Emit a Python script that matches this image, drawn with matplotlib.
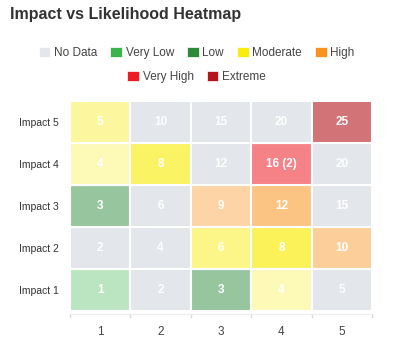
import matplotlib
matplotlib.use("Agg")
import matplotlib.pyplot as plt
from matplotlib.patches import Patch
from matplotlib.colors import to_rgb
import numpy as np

plt.rcParams.update({"font.family": ["Liberation Sans", "DejaVu Sans"]})

likelihood = [1, 2, 3, 4, 5]
impact_labels = ["Impact 1", "Impact 2", "Impact 3", "Impact 4", "Impact 5"]
# rows = impact 1..5, columns = likelihood 1..5
cell_text = [
    ["1", "2", "3", "4", "5"],
    ["2", "4", "6", "8", "10"],
    ["3", "6", "9", "12", "15"],
    ["4", "8", "12", "16 (2)", "20"],
    ["5", "10", "15", "20", "25"],
]
cell_cat = [
    ["Very Low", "No Data", "Low", "Moderate", "No Data"],
    ["No Data", "No Data", "Moderate", "Moderate", "High"],
    ["Low", "No Data", "High", "High", "No Data"],
    ["Moderate", "Moderate", "No Data", "Very High", "No Data"],
    ["Moderate", "No Data", "No Data", "No Data", "Extreme"],
]
cell_alpha = [
    [0.35, 1.0, 0.5, 0.3, 1.0],
    [1.0, 1.0, 0.5, 0.7, 0.45],
    [0.5, 1.0, 0.4, 0.55, 1.0],
    [0.3, 0.65, 1.0, 0.55, 1.0],
    [0.4, 1.0, 1.0, 1.0, 0.6],
]
categories = ["No Data", "Very Low", "Low", "Moderate", "High", "Very High", "Extreme"]
cat_colors = ["#e3e6ea", "#3cb44b", "#2e8b3a", "#f8ec10", "#f7931e", "#ed1c24", "#b3151d"]
cmap = dict(zip(categories, cat_colors))


def blend(c, a):
    r = np.array(to_rgb(c))
    return tuple(a * r + (1 - a) * np.ones(3))


fig = plt.figure(figsize=(3.93, 3.5), dpi=100)
ax = fig.add_axes([70 / 393, 1 - 311 / 350, 302 / 393, 210 / 350])

for i in range(5):
    for j in range(5):
        col = blend(cmap[cell_cat[i][j]], cell_alpha[i][j])
        ax.bar(likelihood[j], 1, width=1, bottom=i + 0.5, color=col,
               edgecolor="white", linewidth=1.5)
        ax.text(likelihood[j], i + 1, cell_text[i][j], ha="center", va="center",
                color="white", fontsize=8.5, fontweight="bold")

ax.set_xlim(0.5, 5.5)
ax.set_ylim(0.5, 5.5)
ax.set_yticks(range(1, 6))
ax.set_yticklabels(impact_labels, fontsize=7.5, color="#333333")
ax.set_xticks(likelihood)
ax.set_xticklabels([str(v) for v in likelihood], fontsize=8.5, color="#444444")
ax.tick_params(axis="y", length=0, pad=8)
ax.tick_params(axis="x", length=0, pad=11)
for s in ax.spines.values():
    s.set_visible(False)
# small boundary ticks under the grid
for b in np.arange(0.5, 6, 1):
    ax.plot([b, b], [0.42, 0.36], color="#d9d9d9", lw=1, clip_on=False)
ax.plot([0.5, 5.5], [0.42, 0.42], color="#eeeeee", lw=0.8, clip_on=False)

fig.text(10 / 393, 1 - 14 / 350, "Impact vs Likelihood Heatmap", fontsize=11.5,
         fontweight="bold", color="#333333", va="center", ha="left")

handles = [Patch(facecolor=cmap[c], edgecolor="white", linewidth=0.5) for c in categories]
kw = dict(frameon=False, fontsize=8.5, handlelength=1.0, handleheight=1.0,
          handletextpad=0.3, columnspacing=1.1, labelcolor="#444444", borderpad=0)
fig.legend(handles[:5], categories[:5], ncol=5, loc="center",
           bbox_to_anchor=(0.5, 1 - 53 / 350), **kw)
fig.legend(handles[5:], categories[5:], ncol=2, loc="center",
           bbox_to_anchor=(0.5, 1 - 77 / 350), **kw)

fig.savefig("out.png", dpi=100, facecolor="white")
